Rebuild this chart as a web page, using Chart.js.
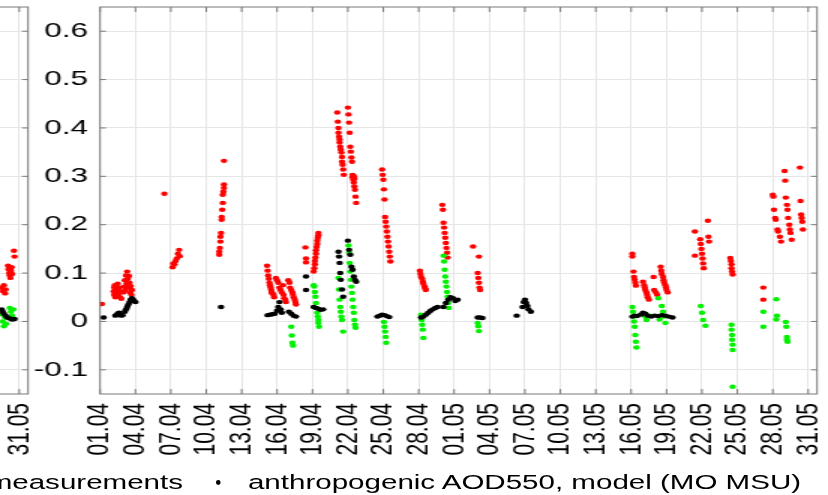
<!DOCTYPE html>
<html>
<head>
<meta charset="utf-8">
<script src="https://cdn.jsdelivr.net/npm/chart.js@4/dist/chart.umd.min.js"></script>
<style>
  html, body { margin: 0; padding: 0; background: #fff; overflow: hidden; }
  #stage { position: absolute; left: 0; top: 0; width: 552px; height: 495px;
           transform: scaleX(1.5); transform-origin: 0 0; }
  #stage canvas { position: absolute; top: 0; }
  #prev { left: -526px; }
  #main { left: 0; }
  .leg { position: absolute; top: 472px; font: 19.7px "Liberation Sans", Arial, sans-serif;
         line-height: 20px; color: #000; white-space: nowrap; }
  #leg1 { right: 430px; }
  #leg2 { left: 165.3px; }
  #legDot { position: absolute; left: 143.5px; top: 479.5px; width: 3.5px; height: 5px;
            border-radius: 50%; background: #000; }
</style>
</head>
<body>
<div id="stage">
  <canvas id="prev" width="552" height="495"></canvas>
  <canvas id="main" width="552" height="495"></canvas>
  <span class="leg" id="leg1">measurements</span>
  <span id="legDot"></span>
  <span class="leg" id="leg2">anthropogenic AOD550, model (MO MSU)</span>
</div>
<script>
// x = days since 01.04
const tickDays = [0, 3, 6, 9, 12, 15, 18, 21, 24, 27, 30, 33, 36, 39, 42, 45, 48, 51, 54, 57, 60];
const tickLabels = ["01.04", "04.04", "07.04", "10.04", "13.04", "16.04", "19.04", "22.04", "25.04", "28.04",
	"01.05", "04.05", "07.05", "10.05", "13.05", "16.05", "19.05", "22.05", "25.05", "28.05", "31.05"];
const yTicks = [-0.1, 0, 0.1, 0.2, 0.3, 0.4, 0.5, 0.6];
const yTickLabels = ["-0.1", "0", "0.1", "0.2", "0.3", "0.4", "0.5", "0.6"];

// main panel: red = total, green = anthropogenic (measurements), black = model
const redMain = [
	[0.15, 0.036],
	[1.15, 0.062], [1.2, 0.07], [1.2, 0.055], [1.25, 0.075], [1.3, 0.066], [1.3, 0.05], [1.35, 0.072], [1.4, 0.06],
	[1.45, 0.068], [1.45, 0.053], [1.5, 0.078], [1.55, 0.064], [1.6, 0.058], [1.65, 0.07], [1.7, 0.05], [1.75, 0.062], [1.8, 0.047],
	[2.0, 0.06], [2.05, 0.072], [2.1, 0.085], [2.15, 0.065], [2.2, 0.095], [2.25, 0.078], [2.3, 0.103], [2.35, 0.088],
	[2.4, 0.07], [2.45, 0.094], [2.5, 0.08], [2.55, 0.06], [2.6, 0.073], [2.65, 0.055], [2.7, 0.065],
	[5.45, 0.264],
	[6.15, 0.112], [6.2, 0.12], [6.3, 0.118], [6.4, 0.125], [6.5, 0.13], [6.6, 0.14], [6.7, 0.148], [6.75, 0.135],
	[10.1, 0.138], [10.1, 0.144], [10.15, 0.152], [10.2, 0.165], [10.2, 0.175], [10.25, 0.183], [10.3, 0.21], [10.3, 0.216],
	[10.35, 0.231], [10.4, 0.245], [10.4, 0.262], [10.45, 0.268], [10.5, 0.276], [10.5, 0.283], [10.5, 0.332],
	[14.15, 0.115], [14.2, 0.105], [14.25, 0.095], [14.3, 0.088], [14.35, 0.08], [14.4, 0.075], [14.45, 0.07], [14.5, 0.065],
	[14.55, 0.06], [14.6, 0.058], [14.7, 0.055], [14.75, 0.05],
	[14.9, 0.09], [15.0, 0.085], [15.1, 0.08], [15.2, 0.07], [15.3, 0.065], [15.4, 0.06], [15.5, 0.075], [15.55, 0.055],
	[15.6, 0.048], [15.7, 0.045], [15.75, 0.04],
	[15.95, 0.085], [16.05, 0.08], [16.1, 0.07], [16.2, 0.065], [16.3, 0.06], [16.35, 0.055], [16.4, 0.05], [16.5, 0.045],
	[16.55, 0.04], [16.6, 0.035],
	[17.4, 0.153], [17.45, 0.13], [17.45, 0.122],
	[18.1, 0.103], [18.15, 0.11], [18.2, 0.118], [18.2, 0.125], [18.25, 0.132], [18.3, 0.14], [18.3, 0.147], [18.35, 0.154],
	[18.4, 0.16], [18.4, 0.167], [18.45, 0.173], [18.5, 0.178], [18.5, 0.183],
	[20.1, 0.432], [20.15, 0.413], [20.2, 0.4], [20.2, 0.39], [20.25, 0.382], [20.3, 0.376], [20.3, 0.37], [20.35, 0.361],
	[20.4, 0.355], [20.45, 0.349], [20.5, 0.34], [20.5, 0.33], [20.55, 0.324], [20.6, 0.314], [20.65, 0.303],
	[21.0, 0.442], [21.05, 0.428], [21.1, 0.411], [21.15, 0.39], [21.2, 0.361], [21.25, 0.351], [21.3, 0.339], [21.35, 0.33],
	[21.4, 0.303], [21.45, 0.293], [21.5, 0.287], [21.55, 0.279], [21.6, 0.272], [21.65, 0.258], [21.7, 0.245],
	[21.4, 0.298], [21.5, 0.3], [21.55, 0.295],
	[23.9, 0.314], [23.95, 0.303], [24.0, 0.293], [24.05, 0.273], [24.1, 0.252], [24.15, 0.216], [24.2, 0.206], [24.25, 0.196],
	[24.3, 0.186], [24.35, 0.175], [24.4, 0.165], [24.45, 0.155], [24.5, 0.144], [24.55, 0.134], [24.6, 0.124],
	[27.1, 0.105], [27.15, 0.098], [27.2, 0.092], [27.3, 0.088], [27.35, 0.082], [27.4, 0.078], [27.5, 0.072], [27.55, 0.068], [27.6, 0.065],
	[29.0, 0.241], [29.05, 0.231], [29.1, 0.204], [29.15, 0.194], [29.2, 0.183], [29.25, 0.173], [29.3, 0.162], [29.35, 0.152],
	[29.4, 0.142], [29.45, 0.132],
	[31.6, 0.155], [32.1, 0.134], [32.0, 0.1], [32.05, 0.09], [32.1, 0.08], [32.15, 0.07], [32.2, 0.065],
	[45.1, 0.14], [45.1, 0.134], [45.2, 0.103], [45.25, 0.092], [45.3, 0.086], [45.35, 0.08], [45.4, 0.074],
	[46.0, 0.082], [46.1, 0.075], [46.15, 0.07], [46.2, 0.065], [46.3, 0.06], [46.35, 0.055], [46.4, 0.05], [46.5, 0.045],
	[46.9, 0.092], [46.95, 0.065], [47.1, 0.06], [47.2, 0.055],
	[47.5, 0.113], [47.55, 0.105], [47.6, 0.098], [47.7, 0.092], [47.75, 0.085], [47.8, 0.08], [47.9, 0.075], [47.95, 0.07],
	[48.0, 0.065], [48.1, 0.06],
	[50.4, 0.186], [50.4, 0.136], [50.85, 0.17], [50.9, 0.16], [50.95, 0.15], [51.0, 0.14], [51.05, 0.13], [51.1, 0.12],
	[51.15, 0.11], [51.5, 0.208], [51.55, 0.175], [51.6, 0.165],
	[53.4, 0.131], [53.45, 0.125], [53.5, 0.118], [53.5, 0.11], [53.55, 0.103], [53.6, 0.097],
	[56.2, 0.07], [56.2, 0.045],
	[57.0, 0.262], [57.05, 0.258], [57.1, 0.231], [57.2, 0.214], [57.25, 0.21], [57.4, 0.19], [57.45, 0.186], [57.6, 0.175], [57.7, 0.165],
	[58.0, 0.311], [58.05, 0.291], [58.1, 0.256], [58.2, 0.241], [58.25, 0.231], [58.3, 0.214], [58.4, 0.2], [58.45, 0.19],
	[58.5, 0.183], [58.6, 0.169],
	[59.3, 0.318], [59.35, 0.249], [59.4, 0.221], [59.45, 0.214], [59.5, 0.206], [59.55, 0.19]
];
const greenMain = [
	[16.2, -0.011], [16.25, -0.029], [16.3, -0.044], [16.35, -0.05],
	[18.1, 0.075], [18.15, 0.072], [18.2, 0.061], [18.25, 0.051], [18.3, 0.038], [18.35, 0.028], [18.4, 0.018], [18.45, 0.01],
	[18.5, 0.003], [18.5, -0.003], [18.55, -0.011],
	[20.2, 0.09], [20.25, 0.066], [20.3, 0.045], [20.35, 0.03], [20.4, 0.02], [20.45, 0.01], [20.5, 0.003], [20.6, -0.021],
	[21.05, 0.157], [21.1, 0.142], [21.15, 0.121], [21.2, 0.103], [21.25, 0.086], [21.3, 0.072], [21.35, 0.059], [21.4, 0.045],
	[21.45, 0.03], [21.5, 0.018], [21.55, 0.003], [21.6, -0.007], [21.65, -0.013],
	[24.05, -0.001], [24.1, -0.011], [24.15, -0.021], [24.2, -0.032], [24.25, -0.044],
	[27.2, 0.014], [27.25, 0.003], [27.3, -0.007], [27.35, -0.017], [27.4, -0.034],
	[29.1, 0.136], [29.15, 0.124], [29.2, 0.107], [29.25, 0.093], [29.3, 0.082], [29.35, 0.072], [29.4, 0.061], [29.45, 0.051],
	[29.5, 0.038], [29.55, 0.028],
	[32.0, -0.003], [32.05, -0.01], [32.1, -0.02],
	[45.1, 0.03], [45.15, 0.02], [45.2, 0.01], [45.25, 0.0], [45.3, -0.011], [45.35, -0.028], [45.4, -0.042], [45.45, -0.054],
	[46.2, 0.01], [46.3, 0.003], [46.6, 0.012],
	[47.3, 0.048],
	[47.4, 0.004], [47.6, 0.032], [47.7, 0.02], [47.8, 0.01], [47.9, -0.003],
	[50.9, 0.032], [51.0, 0.018], [51.1, 0.003], [51.3, -0.009],
	[53.5, -0.007], [53.5, -0.017], [53.55, -0.028], [53.55, -0.038], [53.6, -0.048], [53.6, -0.059], [53.6, -0.135],
	[56.2, 0.02], [56.2, -0.011],
	[57.3, 0.046], [57.35, 0.012], [57.3, 0.004],
	[58.1, -0.001], [58.15, -0.011], [58.2, -0.032], [58.2, -0.038], [58.25, -0.042]
];
const blackMain = [
	[0.3, 0.008],
	[1.3, 0.012], [1.4, 0.014], [1.5, 0.016], [1.6, 0.018], [1.7, 0.015], [1.8, 0.012], [1.9, 0.013],
	[2.1, 0.02], [2.2, 0.025], [2.3, 0.03], [2.4, 0.035], [2.5, 0.04], [2.6, 0.045], [2.7, 0.048], [2.8, 0.045], [2.9, 0.042], [3.0, 0.04],
	[10.25, 0.03],
	[14.2, 0.013], [14.4, 0.014], [14.6, 0.015], [14.8, 0.016], [15.0, 0.022], [15.1, 0.03], [15.2, 0.04], [15.3, 0.025],
	[15.4, 0.018], [16.0, 0.02], [16.2, 0.016], [16.4, 0.012], [16.6, 0.01],
	[17.45, 0.093], [17.45, 0.065],
	[18.1, 0.03], [18.3, 0.028], [18.5, 0.026], [18.7, 0.024], [18.9, 0.025],
	[20.2, 0.144], [20.25, 0.134], [20.3, 0.121], [20.35, 0.1], [20.4, 0.086], [20.5, 0.066], [20.6, 0.051],
	[21.0, 0.167], [21.1, 0.148], [21.2, 0.138], [21.3, 0.113], [21.4, 0.107], [21.5, 0.093], [21.6, 0.086], [21.7, 0.082],
	[23.5, 0.01], [23.7, 0.012], [23.9, 0.014], [24.1, 0.013], [24.3, 0.011], [24.5, 0.009],
	[27.2, 0.008], [27.4, 0.01], [27.6, 0.014], [27.8, 0.018], [28.0, 0.022], [28.2, 0.025], [28.4, 0.028], [28.6, 0.03],
	[29.1, 0.03], [29.3, 0.038], [29.5, 0.045], [29.7, 0.05], [29.9, 0.048], [30.1, 0.042], [30.3, 0.045],
	[32.0, 0.008], [32.2, 0.008], [32.4, 0.007],
	[35.3, 0.012], [35.8, 0.03], [35.9, 0.04], [36.0, 0.045], [36.1, 0.038], [36.2, 0.032], [36.3, 0.025], [36.5, 0.02],
	[45.1, 0.01], [45.3, 0.012], [45.5, 0.011], [45.8, 0.014], [46.0, 0.018], [46.2, 0.016], [46.4, 0.012], [46.7, 0.01],
	[47.0, 0.012], [47.3, 0.011], [47.6, 0.013], [47.9, 0.012], [48.2, 0.01], [48.5, 0.008]
];

// previous panel (only its right end is visible)
const redPrev = [
	[59.55, 0.146], [59.6, 0.134], [59.05, 0.115], [59.1, 0.108], [59.15, 0.1], [59.2, 0.095], [59.25, 0.09], [59.3, 0.105],
	[59.35, 0.112], [59.4, 0.098], [58.5, 0.07], [58.6, 0.063], [58.7, 0.075], [58.8, 0.058], [58.85, 0.066]
];
const greenPrev = [
	[59.2, 0.028], [59.3, 0.02], [59.4, 0.012], [59.5, 0.025], [59.55, 0.005], [58.5, 0.015], [58.6, 0.0], [58.7, -0.01],
	[58.8, 0.008], [58.9, -0.005]
];
const blackPrev = [
	[58.5, 0.025], [58.6, 0.02], [58.7, 0.016], [58.85, 0.012], [59.0, 0.008], [59.2, 0.006], [59.4, 0.004], [59.6, 0.005]
];

Chart.defaults.font.family = '"Liberation Sans", Arial, sans-serif';

const frame = {
	id: "frame",
	afterDraw(chart) {
		const { ctx, chartArea: a, scales } = chart;
		ctx.save();
		ctx.strokeStyle = "#7a7a7a";
		ctx.lineWidth = 1;
		ctx.strokeRect(a.left, a.top, a.right - a.left, a.bottom - a.top);
		ctx.beginPath();
		scales.x.ticks.forEach((t) => {
			const px = scales.x.getPixelForValue(t.value);
			ctx.moveTo(px, a.bottom); ctx.lineTo(px, a.bottom - 5);
			ctx.moveTo(px, a.top); ctx.lineTo(px, a.top + 5);
		});
		scales.y.ticks.forEach((t) => {
			const py = scales.y.getPixelForValue(t.value);
			ctx.moveTo(a.left, py); ctx.lineTo(a.left + 4, py);
			ctx.moveTo(a.right, py); ctx.lineTo(a.right - 4, py);
		});
		ctx.stroke();
		ctx.restore();
	},
};

const toPts = (arr) => arr.map((p) => ({ x: p[0], y: p[1] }));

const makeChart = (id, red, green, black) => {
	const dot = (data, color, order) => ({
		data: toPts(data),
		backgroundColor: color,
		borderWidth: 0,
		pointRadius: 2.2,
		order: order,
	});
	return new Chart(document.getElementById(id), {
		type: "scatter",
		data: {
			datasets: [dot(red, "#ff0000", 3), dot(green, "#00f000", 2), dot(black, "#000000", 1)],
		},
		options: {
			responsive: false,
			animation: false,
			layout: { padding: { left: 0, right: 7.3, top: 7, bottom: 0 } },
			plugins: { legend: { display: false }, tooltip: { enabled: false } },
			scales: {
				x: {
					type: "linear",
					min: 0,
					max: 60.75,
					afterBuildTicks: (s) => { s.ticks = tickDays.map((v) => ({ value: v })); },
					afterFit: (s) => { s.height = 101; s.paddingLeft = 0; s.paddingRight = 0; },
					grid: { color: "#e6e6e6", drawTicks: false },
					border: { display: false },
					ticks: {
						autoSkip: false,
						minRotation: 90,
						maxRotation: 90,
						padding: 9,
						color: "#000",
						font: { size: 21 },
						callback: (v, i) => tickLabels[i],
					},
				},
				y: {
					min: -0.15,
					max: 0.65,
					afterBuildTicks: (s) => { s.ticks = yTicks.map((v) => ({ value: v })); },
					afterFit: (s) => { s.width = 66.7; s.paddingTop = 0; s.paddingBottom = 0; },
					grid: { color: "#e6e6e6", drawTicks: false },
					border: { display: false },
					ticks: {
						padding: 8,
						color: "#000",
						font: { size: 21 },
						callback: (v, i) => yTickLabels[i],
					},
				},
			},
		},
		plugins: [frame],
	});
};

makeChart("prev", redPrev, greenPrev, blackPrev);
makeChart("main", redMain, greenMain, blackMain);
</script>
</body>
</html>
